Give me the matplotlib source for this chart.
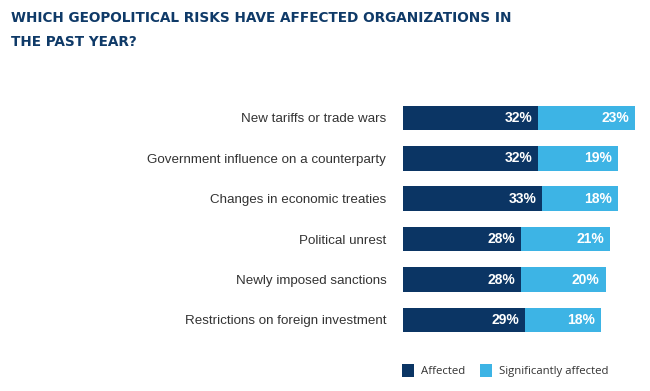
import matplotlib
matplotlib.use("Agg")
import matplotlib.pyplot as plt
from matplotlib.patches import Patch

categories = ["New tariffs or trade wars", "Government influence on a counterparty",
              "Changes in economic treaties", "Political unrest",
              "Newly imposed sanctions", "Restrictions on foreign investment"]
affected = [32, 32, 33, 28, 28, 29]
significantly = [23, 19, 18, 21, 20, 18]
series_names = ["Affected", "Significantly affected"]

dark = "#0b3564"
light = "#3db4e5"
title_color = "#0f3a68"

fig = plt.figure(figsize=(6.5, 3.91), dpi=100)
ax = fig.add_axes([0.62, 0.130, 0.357, 0.620])

y = list(range(len(categories)))
h = 0.61
ax.barh(y, affected, height=h, color=dark)
ax.barh(y, significantly, left=affected, height=h, color=light)

for i in y:
    a = affected[i]; s = significantly[i]
    ax.text(a - 1.4, i, f"{a}%", ha="right", va="center", color="white",
            fontsize=10, fontweight="bold", family="Liberation Sans")
    ax.text(a + s - 1.4, i, f"{s}%", ha="right", va="center", color="white",
            fontsize=10, fontweight="bold", family="Liberation Sans")

ax.set_xlim(0, 55)
ax.set_ylim(5.5, -0.5)
ax.set_yticks(y)
ax.set_yticklabels(categories, fontsize=9.6, color="#333333", family="Liberation Sans")
ax.tick_params(axis="y", length=0, pad=12)
ax.set_xticks([])
for sp in ax.spines.values():
    sp.set_visible(False)

fig.text(0.017, 0.945, "WHICH GEOPOLITICAL RISKS HAVE AFFECTED ORGANIZATIONS IN",
         fontsize=9.8, fontweight="bold", color=title_color, family="DejaVu Sans",
         va="baseline")
fig.text(0.017, 0.883, "THE PAST YEAR?",
         fontsize=9.8, fontweight="bold", color=title_color, family="DejaVu Sans",
         va="baseline")

handles = [Patch(facecolor=dark, edgecolor="none", label=series_names[0]),
           Patch(facecolor=light, edgecolor="none", label=series_names[1])]
fig.legend(handles=handles, loc="center left", bbox_to_anchor=(0.603, 0.052),
           ncol=2, frameon=False, handlelength=1.05, handleheight=1.4,
           handletextpad=0.6, columnspacing=1.3,
           prop={"family": "Open Sans", "size": 8.2}, labelcolor="#333333")

fig.savefig("out.png", dpi=100)
